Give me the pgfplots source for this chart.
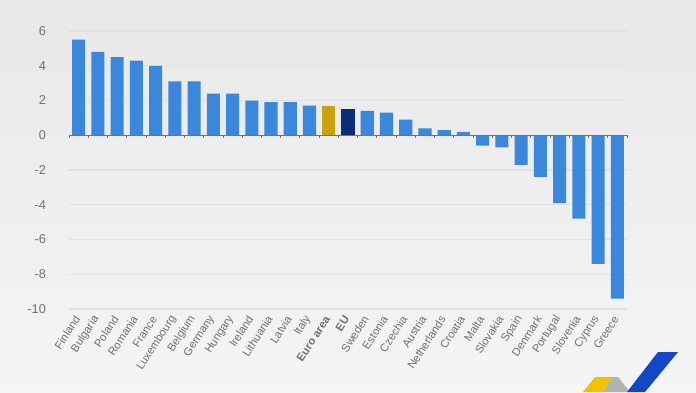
\documentclass[border=0pt]{standalone}
\usepackage{pgfplots}
\pgfplotsset{compat=1.18}
\usepackage{fontspec}
\setmainfont{Liberation Sans}
\definecolor{barblue}{HTML}{3A87DB}
\definecolor{eagold}{HTML}{C9A20E}
\definecolor{eunavy}{HTML}{0B2C78}
\definecolor{gridc}{HTML}{DFE2E8}
\definecolor{labc}{HTML}{707070}
\definecolor{logoyel}{HTML}{F2C200}
\definecolor{logoblue}{HTML}{1446C8}
\begin{document}
\begin{tikzpicture}
\shade[top color=black!9, middle color=black!5, bottom color=black!4] (0,0) rectangle (348pt,196pt);
\useasboundingbox (0,0) rectangle (348pt,196pt);
\begin{axis}[
  at={(34.5pt,41.5pt)}, anchor=south west,
  scale only axis, width=279pt, height=139pt,
  xmin=-0.5, xmax=28.5, ymin=-10, ymax=6,
  ytick={-10,-8,...,6},
  ymajorgrids, grid style={gridc, line width=0.6pt},
  axis line style={draw=none},
  xtick={0,...,28},
  xticklabels={Finland,Bulgaria,Poland,Romania,France,Luxembourg,Belgium,Germany,Hungary,Ireland,Lithuania,Latvia,Italy,\textbf{Euro area},\textbf{EU},Sweden,Estonia,Czechia,Austria,Netherlands,Croatia,Malta,Slovakia,Spain,Denmark,Portugal,Slovenia,Cyprus,Greece},
  x tick label style={rotate=57, anchor=east, font=\fontsize{5.6}{6}\selectfont, text=labc, inner sep=1pt},
  y tick label style={font=\fontsize{6.4}{7}\selectfont, text=labc},
  /pgf/number format/assume math mode=true,
  major tick length=0pt,
  xticklabel shift=3pt,
  yticklabel shift=8pt,
  ybar, bar width=0.68, bar shift=0pt,
  clip=false,
]
\addplot[fill=barblue, draw=none] coordinates {
(0,5.5) (1,4.8) (2,4.5) (3,4.3) (4,4.0) (5,3.1) (6,3.1) (7,2.4) (8,2.4) (9,2.0)
(10,1.9) (11,1.9) (12,1.7) (15,1.4) (16,1.3) (17,0.9) (18,0.4) (19,0.3) (20,0.2)
(21,-0.6) (22,-0.7) (23,-1.7) (24,-2.4) (25,-3.9) (26,-4.8) (27,-7.4) (28,-9.4)};
\addplot[fill=eagold, draw=none] coordinates {(13,1.7)};
\addplot[fill=eunavy, draw=none] coordinates {(14,1.5)};
\draw[black!55, line width=0.5pt] (axis cs:-0.5,0) -- (axis cs:28.5,0);
\pgfplotsinvokeforeach{-0.5,0.5,...,28.5}{
  \draw[black!55, line width=0.4pt] (axis cs:#1,0) -- ++(0pt,-1.5pt);
}
\end{axis}
% decorative logo
\fill[logoyel] (291.5pt,0pt) -- (297.5pt,7.5pt) -- (306pt,7.5pt) -- (301.5pt,0pt) -- cycle;
\fill[black!30] (301.5pt,0pt) -- (306pt,7.5pt) -- (309pt,7.5pt) -- (315pt,0pt) -- cycle;
\fill[logoblue] (313.5pt,0pt) -- (329pt,20pt) -- (339pt,20pt) -- (322.5pt,0pt) -- cycle;
\end{tikzpicture}
\end{document}
